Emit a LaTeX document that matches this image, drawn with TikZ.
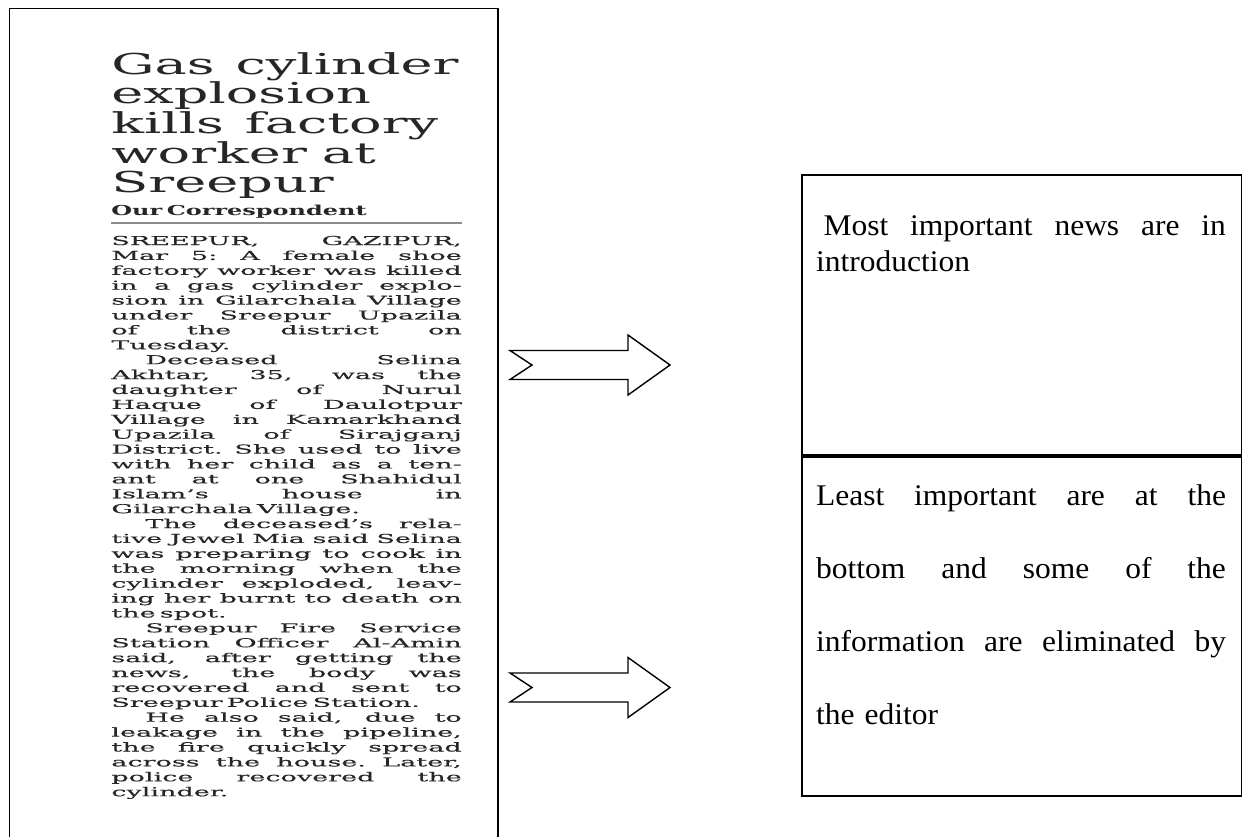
\documentclass[tikz,border=0pt]{standalone}
\usepackage{fontspec}
\usepackage{xcolor}

\newfontfamily\paperhead[FakeStretch=1.88]{DejaVu Serif}
\newfontfamily\paperbyline[FakeStretch=1.75]{DejaVu Serif}
\newfontfamily\paperbody[FakeStretch=2.2, FakeBold=0.4]{DejaVu Serif}
\newfontfamily\notefont[FakeStretch=1.05]{Liberation Serif}
\lineskiplimit=-20pt
\newcommand{\fl}[1]{\leavevmode{\spaceskip=0.1cm plus 1fil\xspaceskip=0.1cm plus 1fil\hbox to 7.01cm{#1}}}
\newcommand{\nl}[1]{\leavevmode{\spaceskip=0.15cm plus 1fil\xspaceskip=0.15cm plus 1fil\hbox to 8.2cm{#1}}}

\tikzset{
	frame/.style={draw, line width=1.1pt},
	blockarrow/.style={draw, line width=0.8pt, line join=miter},
	papertext/.style={anchor=base west, inner sep=0pt, text width=7.01cm, align=left},
	notetext/.style={anchor=base west, inner sep=0pt, text width=8.2cm, align=left}
}

\begin{document}
\begin{tikzpicture}[x=0.02cm, y=-0.02cm]
	\useasboundingbox (0,0) rectangle (1242,836);
	\draw[frame] (9.5,850) -- (9.5,8.5) -- (498,8.5) -- (498,850);
	\node[papertext, text=black!85, font={\paperhead\fontsize{0.576cm}{0.595cm}\selectfont}] (headline) at (111,74)
	{Gas\hspace{0.42cm}cylinder\\ explosion\\ kills\hspace{0.42cm}factory\\ worker\hspace{0.3cm}at\\ Sreepur};
	\node[papertext, text=black!85, font={\paperbyline\bfseries\fontsize{0.274cm}{0.3cm}\selectfont}] (byline) at (111,215) {Our Correspondent};
	\draw[black!45, line width=0.6pt] (111,223) -- (461.5,223);
	\node[papertext, text=black!85, font={\paperbody\fontsize{0.246cm}{0.298cm}\selectfont}] (story) at (111,245)
	{\fl{SREEPUR, GAZIPUR,}\\
	\fl{Mar 5: A female shoe}\\
	\fl{factory worker was killed}\\
	\fl{in a gas cylinder explo-}\\
	\fl{sion in Gilarchala Village}\\
	\fl{under Sreepur Upazila}\\
	\fl{of the district on}\\
	Tuesday.\\
	\fl{\hspace{0.68cm}Deceased Selina}\\
	\fl{Akhtar, 35, was the}\\
	\fl{daughter of Nurul}\\
	\fl{Haque of Daulotpur}\\
	\fl{Village in Kamarkhand}\\
	\fl{Upazila of Sirajganj}\\
	\fl{District. She used to live}\\
	\fl{with her child as a ten-}\\
	\fl{ant at one Shahidul}\\
	\fl{Islam’s house in}\\
	Gilarchala Village.\\
	\fl{\hspace{0.68cm}The deceased’s rela-}\\
	\fl{tive Jewel Mia said Selina}\\
	\fl{was preparing to cook in}\\
	\fl{the morning when the}\\
	\fl{cylinder exploded, leav-}\\
	\fl{ing her burnt to death on}\\
	the spot.\\
	\fl{\hspace{0.68cm}Sreepur Fire Service}\\
	\fl{Station Officer Al-Amin}\\
	\fl{said, after getting the}\\
	\fl{news, the body was}\\
	\fl{recovered and sent to}\\
	Sreepur Police Station.\\
	\fl{\hspace{0.68cm}He also said, due to}\\
	\fl{leakage in the pipeline,}\\
	\fl{the fire quickly spread}\\
	\fl{across the house. Later,}\\
	\fl{police recovered the}\\
	cylinder.};
	\foreach \ay in {365,687.5}
		\draw[blockarrow] (510,\ay-14.5) -- (628,\ay-14.5) -- (628,\ay-30) -- (670,\ay)
			-- (628,\ay+30) -- (628,\ay+14.5) -- (510,\ay+14.5) -- (532,\ay) -- cycle;
	\node[frame, anchor=north west, inner sep=0pt, minimum width=8.806cm, minimum height=5.6cm] (intro) at (800.7,174) {};
	\node[frame, anchor=north west, inner sep=0pt, minimum width=8.806cm, minimum height=6.78cm] (rest) at (intro.south west) {};
	\node[notetext, font={\notefont\fontsize{0.6cm}{0.74cm}\selectfont}] (introtext) at (815.7,235)
	{\nl{\hspace{0.15cm}Most important news are in}\\ introduction};
	\node[notetext, font={\notefont\fontsize{0.6cm}{1.466cm}\selectfont}] (resttext) at (815.7,505)
	{\nl{Least important are at the}\\ \nl{bottom and some of the}\\ \nl{information are eliminated by}\\ the editor};
\end{tikzpicture}
\end{document}
